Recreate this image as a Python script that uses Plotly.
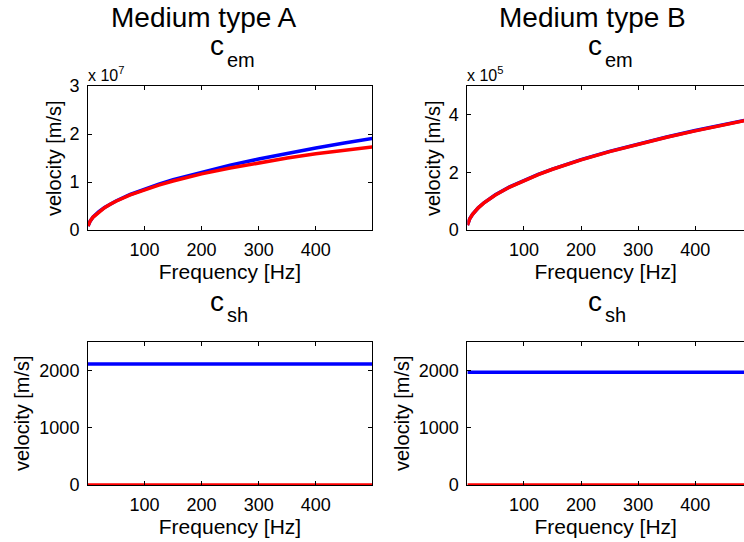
import plotly.graph_objects as go

# ---------------- data ----------------
freq_em = [1, 5, 10, 20, 30, 40, 50, 75, 100, 125, 150, 200, 250, 300, 350, 400, 450, 499]

# Medium type A, c_em [m/s]
cem_A_blue = [0.085e7, 0.19e7, 0.27e7, 0.382e7, 0.468e7, 0.54e7, 0.604e7, 0.74e7, 0.854e7,
              0.955e7, 1.046e7, 1.208e7, 1.351e7, 1.479e7, 1.598e7, 1.708e7, 1.812e7, 1.908e7]
cem_A_red = [0.085e7, 0.19e7, 0.27e7, 0.38e7, 0.465e7, 0.535e7, 0.60e7, 0.73e7, 0.84e7,
             0.935e7, 1.02e7, 1.17e7, 1.29e7, 1.40e7, 1.50e7, 1.59e7, 1.665e7, 1.73e7]

# Medium type B, c_em [m/s]
cem_B_blue = [0.173e5, 0.386e5, 0.546e5, 0.772e5, 0.946e5, 1.092e5, 1.221e5, 1.495e5, 1.727e5,
              1.93e5, 2.115e5, 2.442e5, 2.73e5, 2.99e5, 3.23e5, 3.452e5, 3.662e5, 3.857e5]
cem_B_red = [0.172e5, 0.385e5, 0.544e5, 0.77e5, 0.943e5, 1.089e5, 1.217e5, 1.491e5, 1.722e5,
             1.925e5, 2.109e5, 2.435e5, 2.722e5, 2.982e5, 3.221e5, 3.443e5, 3.652e5, 3.846e5]

freq_sh = [1, 100, 200, 300, 400, 499]
csh_A_blue = [2110, 2110, 2110, 2110, 2110, 2110]
csh_A_red = [0, 0, 0, 0, 0, 0]
csh_B_blue = [1965, 1965, 1965, 1965, 1965, 1965]
csh_B_red = [0, 0, 0, 0, 0, 0]

freq_ticks = [100, 200, 300, 400]
yticks_A_em = [0, 1e7, 2e7, 3e7]
yticks_A_em_text = ["0", "1", "2", "3"]
yticks_B_em = [0, 2e5, 4e5]
yticks_B_em_text = ["0", "2", "4"]
yticks_sh = [0, 1000, 2000]

column_titles = ["Medium type A", "Medium type B"]

# ---------------- figure ----------------
W, H = 744, 542
FONT = "Liberation Sans, Arial, Helvetica, sans-serif"
BLUE = "#0000FF"
RED = "#FF0000"
LW = 3.5

def px(x):
    return x / W

def py(y):
    return 1 - y / H

fig = go.Figure()

def add_pair(xa, ya, xs, yb, yr):
    fig.add_trace(go.Scatter(x=xs, y=yb, mode="lines", line=dict(color=BLUE, width=LW),
                             xaxis=xa, yaxis=ya, showlegend=False, hoverinfo="skip"))
    fig.add_trace(go.Scatter(x=xs, y=yr, mode="lines", line=dict(color=RED, width=LW),
                             xaxis=xa, yaxis=ya, showlegend=False, hoverinfo="skip"))

add_pair("x", "y", freq_em, cem_A_blue, cem_A_red)
add_pair("x2", "y2", freq_em, cem_B_blue, cem_B_red)
add_pair("x3", "y3", freq_sh, csh_A_blue, csh_A_red)
add_pair("x4", "y4", freq_sh, csh_B_blue, csh_B_red)
# invisible traces so the top-edge tick axes of the right column exist
fig.add_trace(go.Scatter(x=[None], y=[None], xaxis="x5", yaxis="y2", showlegend=False, hoverinfo="skip"))
fig.add_trace(go.Scatter(x=[None], y=[None], xaxis="x6", yaxis="y4", showlegend=False, hoverinfo="skip"))

dom_left = [px(88), px(372)]
dom_right = [px(467.4), 1.0]
dom_top = [py(230), py(86)]
dom_bot = [py(485), py(341.7)]

range_left = [1, 498.5]
range_right = [1, 485.4]

tickfont = dict(family=FONT, size=18, color="black")

def xax(dom, rng, anchor, mirror):
    return dict(domain=dom, range=rng, anchor=anchor, tickvals=freq_ticks,
                ticks="inside", ticklen=4, tickcolor="black", showline=True,
                linecolor="black", linewidth=1, mirror=mirror, showgrid=False,
                zeroline=False, tickfont=tickfont, ticklabelstandoff=3, automargin=False,
                title=dict(text="Frequency [Hz]", font=dict(family=FONT, size=21, color="black"),
                           standoff=1))

def yax(dom, rng, anchor, tv, tt, mirror):
    return dict(domain=dom, range=rng, anchor=anchor, tickvals=tv, ticktext=tt,
                ticks="inside", ticklen=4, tickcolor="black", showline=True,
                linecolor="black", linewidth=1, mirror=mirror, showgrid=False,
                zeroline=False, tickfont=tickfont, ticklabelstandoff=4, automargin=False)

def topax(over, anchor):
    return dict(overlaying=over, anchor=anchor, side="top", range=range_right, tickvals=freq_ticks,
                ticks="inside", ticklen=4, tickcolor="black", showline=True, linecolor="black",
                linewidth=1, showticklabels=False, showgrid=False, zeroline=False,
                automargin=False)

fig.update_layout(
    width=W, height=H, margin=dict(l=0, r=0, t=0, b=0, autoexpand=False),
    paper_bgcolor="white", plot_bgcolor="white", showlegend=False,
    xaxis=xax(dom_left, range_left, "y", "allticks"),
    yaxis=yax(dom_top, [0, 3e7], "x", yticks_A_em, yticks_A_em_text, "allticks"),
    xaxis2=xax(dom_right, range_right, "y2", False),
    yaxis2=yax(dom_top, [0, 5e5], "x2", yticks_B_em, yticks_B_em_text, False),
    xaxis3=xax(dom_left, range_left, "y3", "allticks"),
    yaxis3=yax(dom_bot, [0, 2500], "x3", yticks_sh, [str(v) for v in yticks_sh], "allticks"),
    xaxis4=xax(dom_right, range_right, "y4", False),
    yaxis4=yax(dom_bot, [0, 2500], "x4", yticks_sh, [str(v) for v in yticks_sh], False),
    xaxis5=topax("x2", "y2"),
    xaxis6=topax("x4", "y4"),
)

ann = []
def text(x, y, s, size, xanchor="center", yanchor="middle", angle=0):
    ann.append(dict(x=px(x), y=py(y), xref="paper", yref="paper", text=s, showarrow=False,
                    xanchor=xanchor, yanchor=yanchor, textangle=angle,
                    font=dict(family=FONT, size=size, color="black")))

# column titles
text(204, 18, column_titles[0], 28)
text(592, 18, column_titles[1], 28)
# subplot titles c_em / c_sh
for cx, cy, sub in [(230, 46, "em"), (608, 46, "em"), (230, 301, "sh"), (608, 301, "sh")]:
    text(cx - 4, cy, "c", 28, xanchor="right")
    text(cx - 5, cy + 14, sub, 20, xanchor="left")
# exponent labels
text(86, 74, "x 10<sup>7</sup>", 16, xanchor="left")
text(465, 74, "x 10<sup>5</sup>", 16, xanchor="left")
# y axis labels
text(54, 158, "velocity [m/s]", 20, angle=-90)
text(433, 158, "velocity [m/s]", 20, angle=-90)
text(22, 413, "velocity [m/s]", 20, angle=-90)
text(402, 413, "velocity [m/s]", 20, angle=-90)

fig.update_layout(annotations=ann)
fig.write_html("out.html")
